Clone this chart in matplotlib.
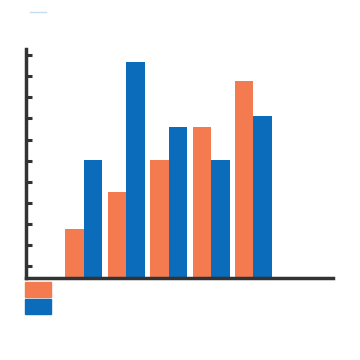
import matplotlib
matplotlib.use("Agg")
import matplotlib.pyplot as plt
import numpy as np
from matplotlib.patches import Patch
from matplotlib.lines import Line2D

# data (units = tick spacing)
groups = ["A", "B", "C", "D", "E"]
orange_vals = [2.3, 4.1, 5.6, 7.15, 9.35]
blue_vals = [5.6, 10.25, 7.15, 5.6, 7.7]
tick_vals = [0.57 + k for k in range(11)]

orange = "#F47B50"
blue = "#0A6CBA"
dark = "#333333"

fig = plt.figure(figsize=(3.6, 3.6), dpi=100)
ax = fig.add_axes([0.072, 0.228, 0.853, 0.636])

x = np.arange(len(groups))
w = 0.437
ax.bar(x - w / 2, orange_vals, width=w, color=orange)
ax.bar(x + w / 2, blue_vals, width=w, color=blue)

ax.set_xlim(-1.37, 5.88)
ax.set_ylim(0, 10.87)

for s in ["top", "right"]:
    ax.spines[s].set_visible(False)
for s in ["left", "bottom"]:
    ax.spines[s].set_color(dark)
    ax.spines[s].set_linewidth(2.5)

ax.set_xticks([])
ax.set_yticks(tick_vals)
ax.set_yticklabels([])
ax.tick_params(axis="y", direction="in", length=4, width=2.2, color=dark)

# legend swatches without text under the axis
handles = [Patch(color=orange), Patch(color=blue)]
fig.legend(handles, ["", ""], loc="upper left", bbox_to_anchor=(0.069, 0.2175),
           frameon=False, handlelength=1.9, handleheight=1.35,
           labelspacing=0.1, borderpad=0, borderaxespad=0, handletextpad=0)

# faint mark at the top left
fig.add_artist(Line2D([0.083, 0.128], [0.968, 0.968], color="#c6dcf0", lw=1))

fig.savefig("out.png", dpi=100)
